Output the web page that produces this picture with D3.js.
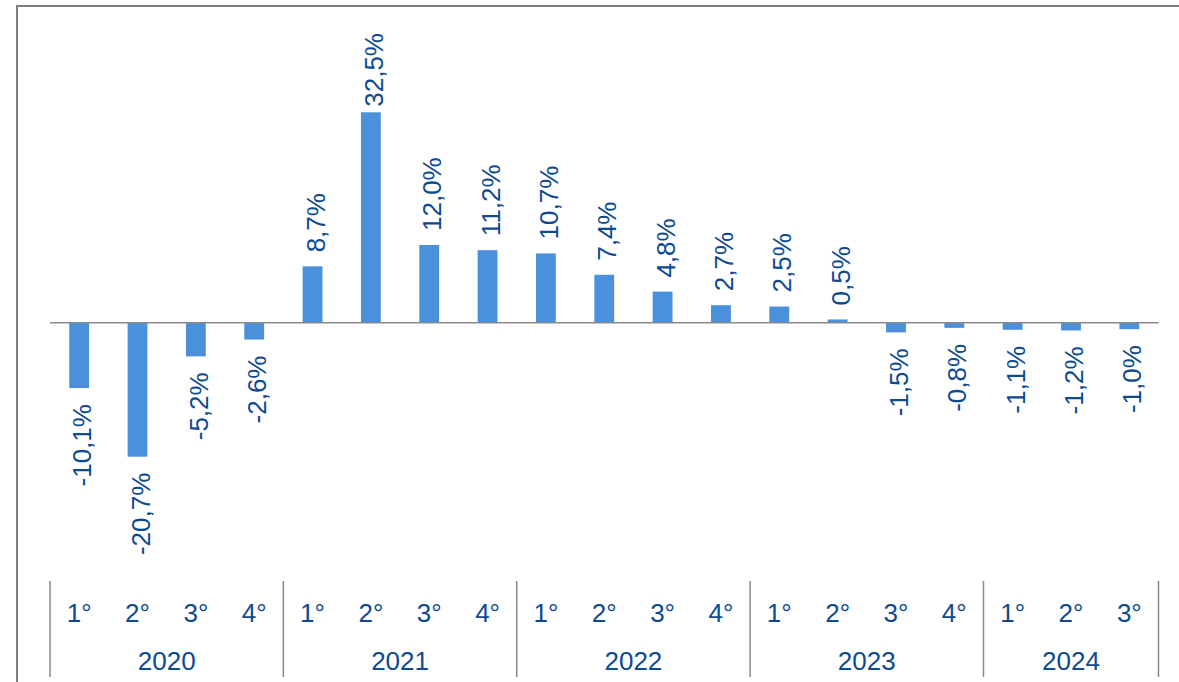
<!DOCTYPE html>
<html>
<head>
<meta charset="utf-8">
<script src="https://cdn.jsdelivr.net/npm/d3@7"></script>
<style>
  html, body { margin: 0; padding: 0; background: #fff; }
  svg { display: block; }
  text { font-family: "Liberation Sans", Arial, sans-serif; }
</style>
</head>
<body>
<svg id="chart" width="1179" height="682"></svg>
<script>
const years = ["2020", "2021", "2022", "2023", "2024"];
const quarters = ["1°", "2°", "3°", "4°", "1°", "2°", "3°", "4°", "1°", "2°", "3°", "4°", "1°", "2°", "3°", "4°", "1°", "2°", "3°"];
const quarterYear = ["2020","2020","2020","2020","2021","2021","2021","2021","2022","2022","2022","2022","2023","2023","2023","2023","2024","2024","2024"];
const values = [-10.1, -20.7, -5.2, -2.6, 8.7, 32.5, 12.0, 11.2, 10.7, 7.4, 4.8, 2.7, 2.5, 0.5, -1.5, -0.8, -1.1, -1.2, -1.0];

const W = 1179, H = 682;
const svg = d3.select("#chart");
const barColor = "#4a90db";
const textColor = "#0d4a91";
const gridGray = "#8a8a8a";

const plotLeft = 50, plotRight = 1158.5, plotTop = 33;
const idx = values.map((d, i) => i);

const x = d3.scaleBand().domain(idx).range([plotLeft, plotRight]).paddingInner(0.66).paddingOuter(0.33);
const y = d3.scaleLinear().domain([-20.7, 32.5]).range([456.7, 112.3]);

const locale = d3.formatLocale({ decimal: ",", thousands: ".", grouping: [3], currency: ["", "€"], minus: "-" });
const fmt = v => locale.format(".1f")(v) + "%";

// outer frame
svg.append("rect")
  .attr("x", 17).attr("y", 6)
  .attr("width", W + 20).attr("height", H + 20)
  .attr("fill", "none").attr("stroke", "#7f7f7f").attr("stroke-width", 2);

// bars
svg.append("g").selectAll("rect").data(idx).join("rect")
  .attr("x", i => x(i))
  .attr("width", x.bandwidth())
  .attr("y", i => y(Math.max(0, values[i])))
  .attr("height", i => Math.abs(y(values[i]) - y(0)))
  .attr("fill", barColor);

// zero axis line
svg.append("line")
  .attr("x1", plotLeft).attr("x2", plotRight)
  .attr("y1", y(0)).attr("y2", y(0))
  .attr("stroke", gridGray).attr("stroke-width", 1.5);

// value labels
const labels = svg.append("g").selectAll("text").data(idx).join("text")
  .attr("text-anchor", i => values[i] >= 0 ? "start" : "end")
  .attr("dy", "0.35em")
  .attr("font-size", 26)
  .attr("fill", textColor)
  .text(i => fmt(values[i]));

labels.each(function(i) {
  const len = this.getComputedTextLength();
  const cx = x(i) + x.bandwidth() / 2 + 3;
  let yy;
  if (values[i] >= 0) {
    yy = y(values[i]) - 14;
    if (yy - len < plotTop) yy = plotTop + len;
  } else {
    yy = y(values[i]) + 16;
  }
  d3.select(this).attr("transform", `translate(${cx},${yy}) rotate(-90)`);
});

// category axis: quarter labels
const step = x.step();
svg.append("g").selectAll("text").data(idx).join("text")
  .attr("x", i => x(i) + x.bandwidth() / 2)
  .attr("y", 621.5)
  .attr("text-anchor", "middle")
  .attr("font-size", 26)
  .attr("fill", textColor)
  .text(i => quarters[i]);

// year groups
const groups = years.map(yr => {
  const members = idx.filter(i => quarterYear[i] === yr);
  const first = members[0], last = members[members.length - 1];
  return { yr, x0: x(first) - x.paddingOuter() * step, x1: x(last) - x.paddingOuter() * step + step };
});
const seps = [groups[0].x0, ...groups.map(g => g.x1)];

svg.append("g").selectAll("line").data(seps).join("line")
  .attr("x1", d => d).attr("x2", d => d)
  .attr("y1", 581).attr("y2", 677)
  .attr("stroke", gridGray).attr("stroke-width", 1.5);

svg.append("g").selectAll("text").data(groups).join("text")
  .attr("x", g => (g.x0 + g.x1) / 2)
  .attr("y", 670)
  .attr("text-anchor", "middle")
  .attr("font-size", 26)
  .attr("fill", textColor)
  .text(g => g.yr);
</script>
</body>
</html>
